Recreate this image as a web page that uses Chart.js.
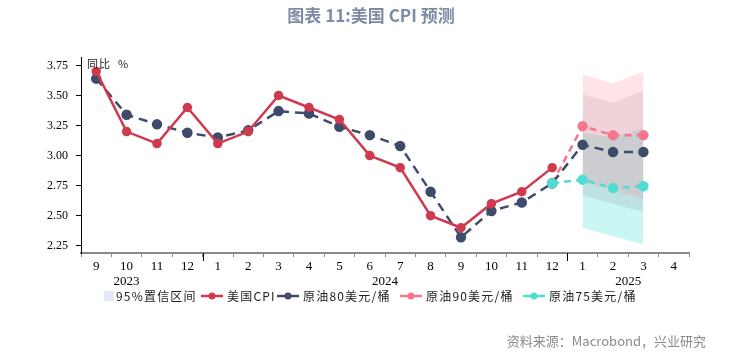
<!DOCTYPE html>
<html>
<head>
<meta charset="utf-8">
<script src="https://cdn.jsdelivr.net/npm/chart.js@4/dist/chart.umd.min.js"></script>
<style>
html,body{margin:0;padding:0;background:#fff;}
#wrap{position:relative;width:747px;height:353px;}
</style>
</head>
<body>
<div id="wrap"><canvas id="c" width="747" height="353"></canvas></div>
<script>
// ---- data ----
const months = ['9','10','11','12','1','2','3','4','5','6','7','8','9','10','11','12','1','2','3','4'];
const yearLabels = ['2023','2024','2025'];
const yearSpans = [[0,2],[4,15],[16,19]];
const yTicks = [2.25, 2.50, 2.75, 3.00, 3.25, 3.50, 3.75];

const cpi   = [3.7,3.2,3.1,3.4,3.1,3.2,3.5,3.4,3.3,3.0,2.9,2.5,2.4,2.6,2.7,2.9,null,null,null,null];
const oil80 = [3.64,3.34,3.26,3.19,3.15,3.21,3.37,3.35,3.24,3.17,3.08,2.70,2.32,2.54,2.61,2.77,3.09,3.03,3.03,null];
const oil90 = [null,null,null,null,null,null,null,null,null,null,null,null,null,null,null,2.77,3.245,3.17,3.17,null];
const oil75 = [null,null,null,null,null,null,null,null,null,null,null,null,null,null,null,2.77,2.80,2.73,2.745,null];

const band90Hi = [null,null,null,null,null,null,null,null,null,null,null,null,null,null,null,null,3.675,3.60,3.70,null];
const band90Lo = [null,null,null,null,null,null,null,null,null,null,null,null,null,null,null,null,2.78,2.71,2.64,null];
const band80Hi = [null,null,null,null,null,null,null,null,null,null,null,null,null,null,null,null,3.51,3.44,3.54,null];
const band80Lo = [null,null,null,null,null,null,null,null,null,null,null,null,null,null,null,null,2.67,2.60,2.53,null];
const band75Hi = [null,null,null,null,null,null,null,null,null,null,null,null,null,null,null,null,3.19,3.15,3.23,null];
const band75Lo = [null,null,null,null,null,null,null,null,null,null,null,null,null,null,null,null,2.40,2.33,2.26,null];

const seriesNames = ['95%置信区间','美国CPI','原油80美元/桶','原油90美元/桶','原油75美元/桶'];

// ---- styles ----
const C_RED = '#cf3a4f', C_NAVY = '#3e4b6b', C_PINK = '#f7768f', C_CYAN = '#4fdcd2';
const SERIF = '"Liberation Serif","DejaVu Serif",serif';
const CJK = '"Noto Sans CJK SC","Noto Sans",sans-serif';

function bandDs(data, fillTarget, color, order){
  return {data, fill: fillTarget, backgroundColor: color, borderWidth: 0, pointRadius: 0, tension: 0, spanGaps:false, order};
}

const datasets = [
  bandDs(band75Hi, '+1', 'rgba(80,225,215,0.30)', 12),
  bandDs(band75Lo, false, 'rgba(0,0,0,0)', 12),
  bandDs(band80Hi, '+1', 'rgba(110,95,105,0.13)', 11),
  bandDs(band80Lo, false, 'rgba(0,0,0,0)', 11),
  bandDs(band90Hi, '+1', 'rgba(255,140,155,0.24)', 10),
  bandDs(band90Lo, false, 'rgba(0,0,0,0)', 10),
  {label: seriesNames[2], data: oil80, borderColor: C_NAVY, backgroundColor: C_NAVY, borderWidth: 2.5, borderDash:[9,6], pointRadius: 4, pointHoverRadius:4, fill:false, order: 3},
  {label: seriesNames[3], data: oil90, borderColor: C_PINK, backgroundColor: C_PINK, borderWidth: 2.5, borderDash:[7,5], pointRadius: 4, pointHoverRadius:4, fill:false, order: 4},
  {label: seriesNames[4], data: oil75, borderColor: C_CYAN, backgroundColor: C_CYAN, borderWidth: 2.5, borderDash:[7,5], pointRadius: 4, pointHoverRadius:4, fill:false, order: 2},
  {label: seriesNames[1], data: cpi, borderColor: C_RED, backgroundColor: C_RED, borderWidth: 2.5, pointRadius: 3.5, pointHoverRadius:3.5, fill:false, order: 1},
];

const decor = {
  id: 'decor',
  afterDraw(chart){
    const ctx = chart.ctx, xs = chart.scales.x, ca = chart.chartArea;
    ctx.save();
    // title
    ctx.fillStyle = '#7d8ba5';
    ctx.font = 'bold 17px ' + CJK;
    ctx.textAlign = 'center'; ctx.textBaseline = 'middle';
    ctx.fillText('图表 11:美国 CPI 预测', 371, 16);
    // unit
    ctx.fillStyle = '#222';
    ctx.font = '11px ' + CJK;
    ctx.textAlign = 'left';
    ctx.letterSpacing = '1px';
    ctx.fillText('同比  %', 87, 64);
    // major ticks at year boundaries
    ctx.letterSpacing = '0px';
    ctx.strokeStyle = '#000'; ctx.lineWidth = 1;
    [[3,4],[15,16]].forEach(([a,b])=>{
      const x = Math.round((xs.getPixelForValue(a)+xs.getPixelForValue(b))/2)+0.5;
      ctx.beginPath(); ctx.moveTo(x, ca.bottom); ctx.lineTo(x, ca.bottom+8); ctx.stroke();
    });
    // year labels
    ctx.fillStyle = '#000';
    ctx.font = '13px ' + SERIF;
    ctx.textAlign = 'center';
    yearLabels.forEach((t,i)=>{
      const [a,b] = yearSpans[i];
      const x = (xs.getPixelForValue(a)+xs.getPixelForValue(b))/2;
      ctx.fillText(t, x, 282);
    });
    // legend
    const ly = 296;
    ctx.font = '12px ' + CJK;
    ctx.textAlign = 'left'; ctx.textBaseline = 'middle';
    ctx.letterSpacing = '1.2px';
    ctx.fillStyle = '#e5ebf5';
    ctx.fillRect(104, ly-5, 10, 10);
    ctx.fillStyle = '#222';
    ctx.fillText(seriesNames[0], 116, ly);
    const items = [[201, C_RED, seriesNames[1]], [277, C_NAVY, seriesNames[2]], [400, C_PINK, seriesNames[3]], [523, C_CYAN, seriesNames[4]]];
    items.forEach(([x,col,t])=>{
      ctx.strokeStyle = col; ctx.lineWidth = 2.5;
      ctx.beginPath(); ctx.moveTo(x, ly); ctx.lineTo(x+22, ly); ctx.stroke();
      ctx.fillStyle = col;
      ctx.beginPath(); ctx.arc(x+11, ly, 3.5, 0, Math.PI*2); ctx.fill();
      ctx.fillStyle = '#222';
      ctx.fillText(t, x+26, ly);
    });
    ctx.letterSpacing = '0px';
    // source
    ctx.fillStyle = '#8a8a8a';
    ctx.font = '13px ' + CJK;
    ctx.textAlign = 'right';
    ctx.fillText('资料来源：Macrobond，兴业研究', 706, 341);
    ctx.restore();
  }
};

new Chart(document.getElementById('c'), {
  type: 'line',
  data: {labels: months, datasets},
  options: {
    responsive: false,
    animation: false,
    devicePixelRatio: 1,
    layout: {padding: {left: 0, top: 57, right: 58, bottom: 75}},
    plugins: {legend: {display: false}, tooltip: {enabled: false}, title: {display: false}},
    elements: {line: {tension: 0}},
    scales: {
      x: {
        type: 'category',
        offset: true,
        grid: {offset: true, drawOnChartArea: false, drawTicks: true, tickLength: 4, tickColor: '#888', tickWidth: 1},
        border: {color: '#888', width: 2},
        ticks: {color: '#000', font: {family: SERIF, size: 13}, padding: 2, maxRotation: 0, autoSkip: false},
        afterFit(s){ s.height = 25; }
      },
      y: {
        min: 2.19, max: 3.82,
        afterBuildTicks(s){ s.ticks = yTicks.map(v=>({value:v})); },
        grid: {drawOnChartArea: false, drawTicks: true, tickLength: 5, tickColor: '#000'},
        border: {color: '#000', width: 1},
        ticks: {color: '#000', font: {family: SERIF, size: 12}, padding: 8, callback: v => Number(v).toFixed(2)},
        afterFit(s){ s.width = 81; }
      }
    }
  },
  plugins: [decor]
});
</script>
</body>
</html>
